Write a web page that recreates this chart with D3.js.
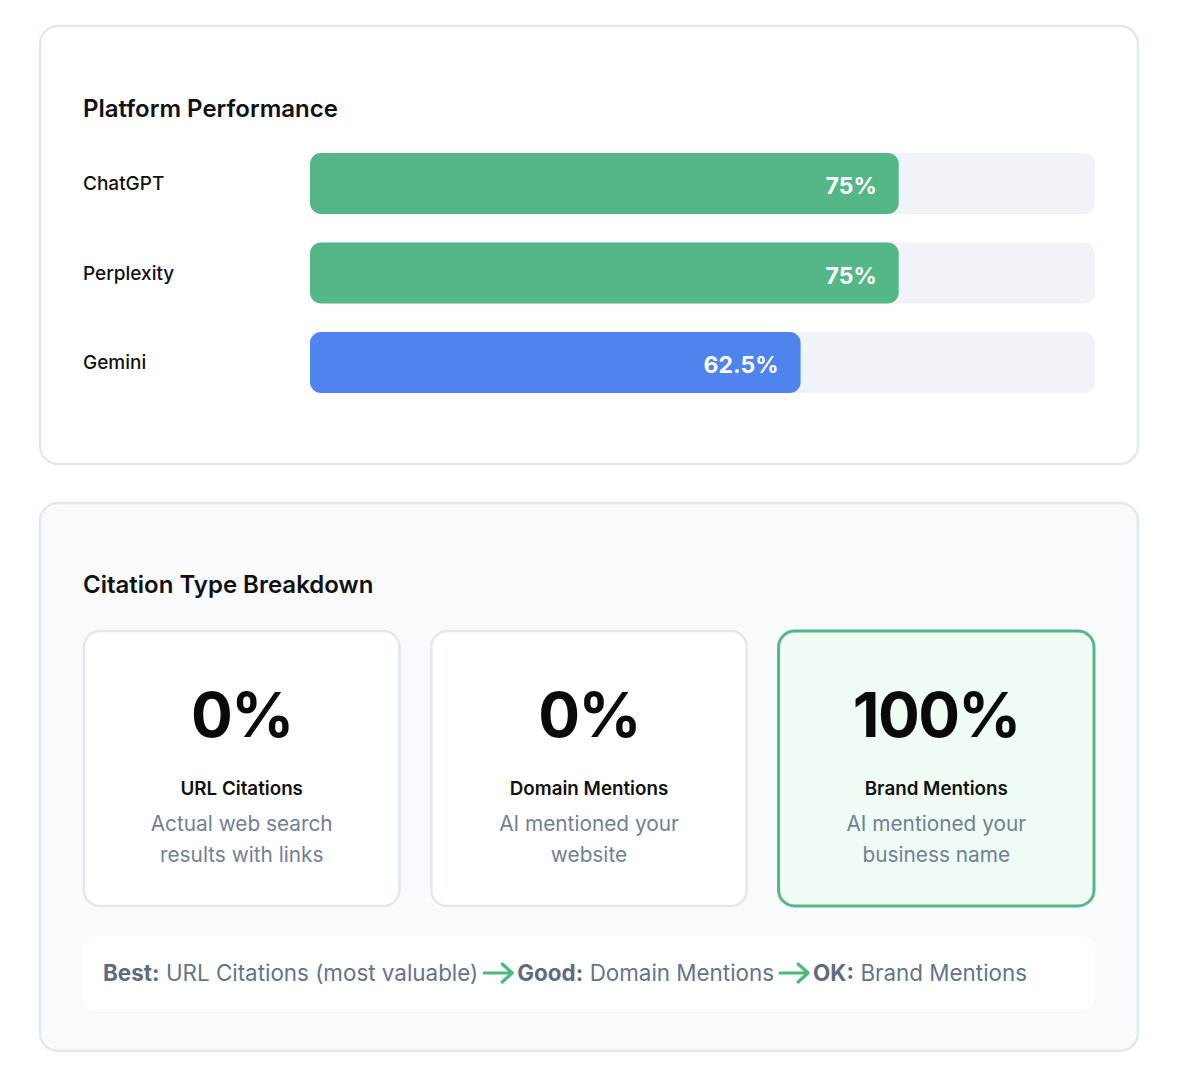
<!DOCTYPE html>
<html>
<head>
<meta charset="utf-8">
<script src="https://cdn.jsdelivr.net/npm/d3@7"></script>
<style>
  html, body { margin: 0; padding: 0; background: #fff; }
  svg text { font-family: Inter, "Noto Sans", sans-serif; }
</style>
</head>
<body>
<div id="chart"></div>
<script>
// platform performance data
const platforms = ['ChatGPT', 'Perplexity', 'Gemini'];
const platformScores = [75, 75, 62.5];
const platformColors = ['#55b787', '#55b787', '#4f83ee'];

// citation breakdown data
const citationTypes = ['URL Citations', 'Domain Mentions', 'Brand Mentions'];
const citationShares = [0, 0, 100];
const citationNotes = [
  ['Actual web search', 'results with links'],
  ['AI mentioned your', 'website'],
  ['AI mentioned your', 'business name']
];
const rankLabels = ['Best:', 'Good:', 'OK:'];
const rankTexts = ['URL Citations (most valuable)', 'Domain Mentions', 'Brand Mentions'];

const W = 1180, H = 1086;
const svg = d3.select('#chart').append('svg')
  .attr('width', W).attr('height', H);

// ---- card 1
svg.append('rect')
  .attr('x', 40).attr('y', 26).attr('width', 1098).attr('height', 438)
  .attr('rx', 18).attr('fill', '#fff')
  .attr('stroke', '#e2e8f0').attr('stroke-width', 2.5);

svg.append('text')
  .attr('x', 83).attr('y', 117)
  .attr('font-size', 24).attr('font-weight', 600).attr('fill', '#111')
  .text('Platform Performance');

const x = d3.scaleLinear().domain([0, 100]).range([310, 1095]);
const y = d3.scaleBand().domain(platforms).range([153, 393]).paddingInner(0.318);

const rows = svg.append('g').selectAll('g')
  .data(platforms)
  .join('g')
  .attr('transform', d => `translate(0,${y(d)})`);

rows.append('text')
  .attr('x', 83).attr('y', y.bandwidth() / 2)
  .attr('dy', '0.35em')
  .attr('font-size', 19).attr('font-weight', 500).attr('fill', '#111')
  .text(d => d);

rows.append('rect')
  .attr('x', x(0)).attr('width', x(100) - x(0))
  .attr('height', y.bandwidth()).attr('rx', 11)
  .attr('fill', '#f0f4f8');

rows.append('rect')
  .attr('x', x(0)).attr('width', (d, i) => x(platformScores[i]) - x(0))
  .attr('height', y.bandwidth()).attr('rx', 11)
  .attr('fill', (d, i) => platformColors[i]);

rows.append('text')
  .attr('x', (d, i) => x(platformScores[i]) - 22)
  .attr('y', y.bandwidth() / 2 + 2)
  .attr('dy', '0.38em')
  .attr('text-anchor', 'end')
  .attr('font-size', 23).attr('font-weight', 700).attr('fill', '#fff')
  .text((d, i) => `${platformScores[i]}%`);

// ---- card 2
svg.append('rect')
  .attr('x', 40).attr('y', 503).attr('width', 1098).attr('height', 548)
  .attr('rx', 18).attr('fill', '#f8fafc')
  .attr('stroke', '#e2e8f0').attr('stroke-width', 2.5);

svg.append('text')
  .attr('x', 83).attr('y', 593)
  .attr('font-size', 24).attr('font-weight', 600).attr('fill', '#111')
  .text('Citation Type Breakdown');

const cx = d3.scaleBand().domain(citationTypes).range([83, 1095]).paddingInner(0.086);
const best = d3.maxIndex(citationShares);

const cards = svg.append('g').selectAll('g')
  .data(citationTypes)
  .join('g')
  .attr('transform', d => `translate(${cx(d)},631)`);

cards.append('rect')
  .attr('x', 1).attr('y', 0)
  .attr('width', cx.bandwidth() - 2).attr('height', 275)
  .attr('rx', 16)
  .attr('fill', (d, i) => i === best ? '#f0fdf4' : '#fff')
  .attr('stroke', (d, i) => i === best ? '#55b787' : '#e2e8f0')
  .attr('stroke-width', (d, i) => i === best ? 3 : 2.5);

cards.append('text')
  .attr('x', cx.bandwidth() / 2).attr('y', 106)
  .attr('text-anchor', 'middle')
  .attr('font-size', 62).attr('font-weight', 700).attr('fill', '#0a0a0a')
  .attr('letter-spacing', -1.6)
  .text((d, i) => `${citationShares[i]}%`);

cards.append('text')
  .attr('x', cx.bandwidth() / 2).attr('y', 164)
  .attr('text-anchor', 'middle')
  .attr('font-size', 18.8).attr('font-weight', 600).attr('fill', '#111')
  .text(d => d);

cards.each(function(d, i) {
  d3.select(this).selectAll('text.note')
    .data(citationNotes[i])
    .join('text')
    .attr('class', 'note')
    .attr('x', cx.bandwidth() / 2)
    .attr('y', (t, j) => 200 + j * 31)
    .attr('text-anchor', 'middle')
    .attr('font-size', 20.8).attr('fill', '#718096')
    .text(t => t);
});

// ranking strip
svg.append('rect')
  .attr('x', 83).attr('y', 936).attr('width', 1012).attr('height', 73)
  .attr('rx', 12).attr('fill', '#fff');

const strip = svg.append('g');
let cursor = 103;
const baseY = 981;

function addWord(str, bold) {
  const t = strip.append('text')
    .attr('x', cursor).attr('y', baseY)
    .attr('font-size', 22.4)
    .attr('font-weight', bold ? 700 : 400)
    .attr('fill', bold ? '#5f6b80' : '#64748b')
    .text(str);
  cursor += t.node().getComputedTextLength();
}

function addArrow() {
  const x0 = cursor + 6, x1 = x0 + 28, ay = 973;
  strip.append('path')
    .attr('d', `M${x0},${ay}H${x1 - 1}M${x1 - 10},${ay - 9}L${x1},${ay}L${x1 - 10},${ay + 9}`)
    .attr('fill', 'none').attr('stroke', '#48bb78')
    .attr('stroke-width', 3.2)
    .attr('stroke-linecap', 'round').attr('stroke-linejoin', 'round');
  cursor = x1 + 5;
}

rankLabels.forEach((lab, i) => {
  if (i > 0) addArrow();
  addWord(lab, true);
  cursor += 6.5;
  addWord(rankTexts[i], false);
});
</script>
</body>
</html>
